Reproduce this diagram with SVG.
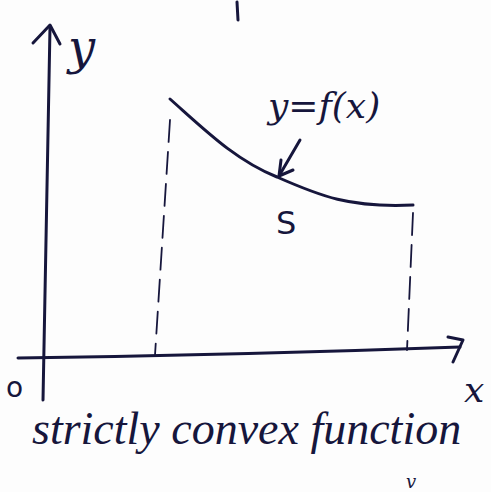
<svg xmlns="http://www.w3.org/2000/svg" width="491" height="492" viewBox="0 0 491 492">
<style>
.ink{fill:none;stroke:#16163c;stroke-width:3;stroke-linecap:round;stroke-linejoin:round}
.dash{fill:none;stroke:#16163c;stroke-width:1.8;stroke-dasharray:22 10;stroke-linecap:round}
.t{fill:#16163c;font-family:"DejaVu Serif","Liberation Serif",serif;font-style:italic}
.c{fill:#16163c;font-family:"Liberation Serif","DejaVu Serif",serif;font-style:italic}
.u{fill:#16163c;font-family:"DejaVu Sans","Liberation Sans",sans-serif}
</style>
<rect width="491" height="492" fill="#fdfdfd"/>
<g id="connectors">
<path class="ink" d="M237,2 L238,20"/>
<path class="ink" d="M50,27 L43,400"/>
<path class="ink" d="M33,43 L50,25 L60,44"/>
<path class="ink" d="M18,358 Q240,355 460,347"/>
<path class="ink" d="M448,337 L463,340 L453,362"/>
<path class="dash" d="M170,120 L155,355"/>
<path class="dash" d="M413,213 L407,350"/>
<path class="ink" d="M300,140 L279,176"/>
<path class="ink" d="M281,160 L279,176 L293,170"/>
</g>
<g id="curve">
<path class="ink" d="M170,99 C205,130 235,160 277,177 C320,196 350,208 413,205"/>
</g>
<g id="label-y"><text class="t" x="68" y="64" font-size="48">y</text></g>
<g id="label-o"><text class="u" x="6" y="397" font-size="28">o</text></g>
<g id="label-x"><text class="t" x="464" y="402" font-size="36">x</text></g>
<g id="label-f"><text class="t" x="268" y="118" font-size="36">y=f(x)</text></g>
<g id="label-s"><text class="u" x="276" y="234" font-size="32">S</text></g>
<g id="caption"><text class="c" x="32" y="444" font-size="46">strictly convex function</text></g>
<g id="mark"><text class="t" x="406" y="488" font-size="18">v</text></g>
</svg>
